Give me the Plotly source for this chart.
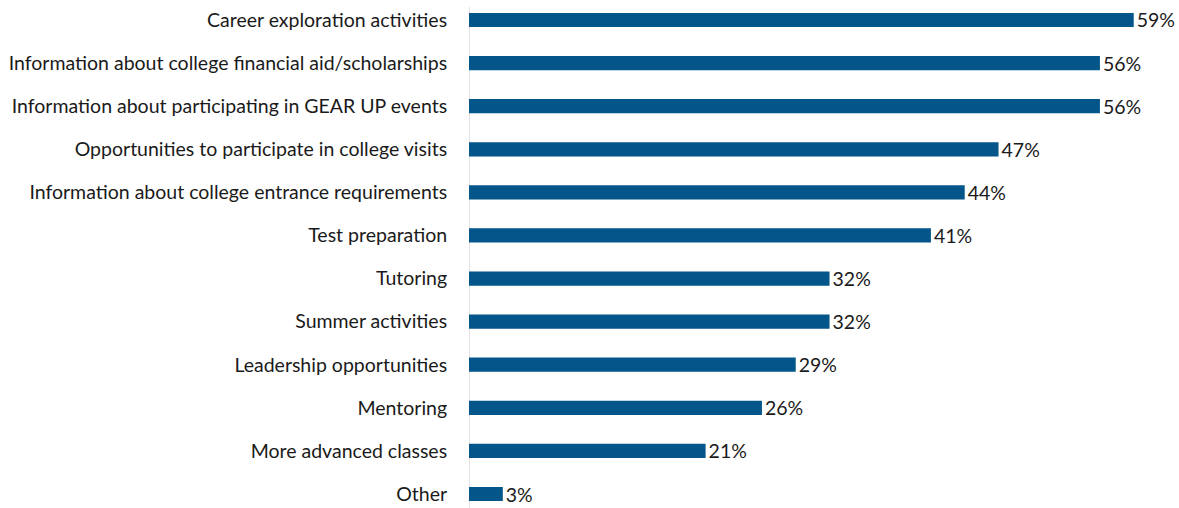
import plotly.graph_objects as go

categories = [
    "Career exploration activities",
    "Information about college financial aid/scholarships",
    "Information about participating in GEAR UP events",
    "Opportunities to participate in college visits",
    "Information about college entrance requirements",
    "Test preparation",
    "Tutoring",
    "Summer activities",
    "Leadership opportunities",
    "Mentoring",
    "More advanced classes",
    "Other",
]
values = [59, 56, 56, 47, 44, 41, 32, 32, 29, 26, 21, 3]
labels = [f"{v}%" for v in values]

BAR_COLOR = "#03558A"
FONT = "Lato"
TEXT_COLOR = "#1a1a1a"
SIZE = 19.5

fig = go.Figure(
    go.Bar(
        x=values,
        y=categories,
        orientation="h",
        marker=dict(color=BAR_COLOR, line=dict(width=0)),
        width=0.33,
        text=labels,
        textposition="outside",
        constraintext="none",
        textfont=dict(family=FONT, size=SIZE, color=TEXT_COLOR),
        cliponaxis=False,
        hoverinfo="skip",
    )
)

fig.update_layout(
    width=1179,
    height=508,
    margin=dict(l=469, r=34, t=0, b=0),
    paper_bgcolor="white",
    plot_bgcolor="white",
    showlegend=False,
    font=dict(family=FONT, size=SIZE, color=TEXT_COLOR),
    uniformtext=dict(minsize=SIZE, mode="show"),
    xaxis=dict(
        range=[0, 60],
        showgrid=False,
        zeroline=False,
        showticklabels=False,
        showline=False,
    ),
    yaxis=dict(
        categoryorder="array",
        categoryarray=categories,
        range=[11.325, -0.464],
        showgrid=False,
        zeroline=False,
        showline=False,
        ticks="outside",
        ticklen=17,
        tickcolor="rgba(0,0,0,0)",
        tickfont=dict(family=FONT, size=SIZE, color=TEXT_COLOR),
    ),
    shapes=[
        dict(
            type="line",
            xref="x",
            yref="paper",
            x0=0,
            x1=0,
            y0=0,
            y1=0.986,
            line=dict(color="#D9D9D9", width=1.5),
            layer="below",
        )
    ],
)

fig.write_html("out.html")
